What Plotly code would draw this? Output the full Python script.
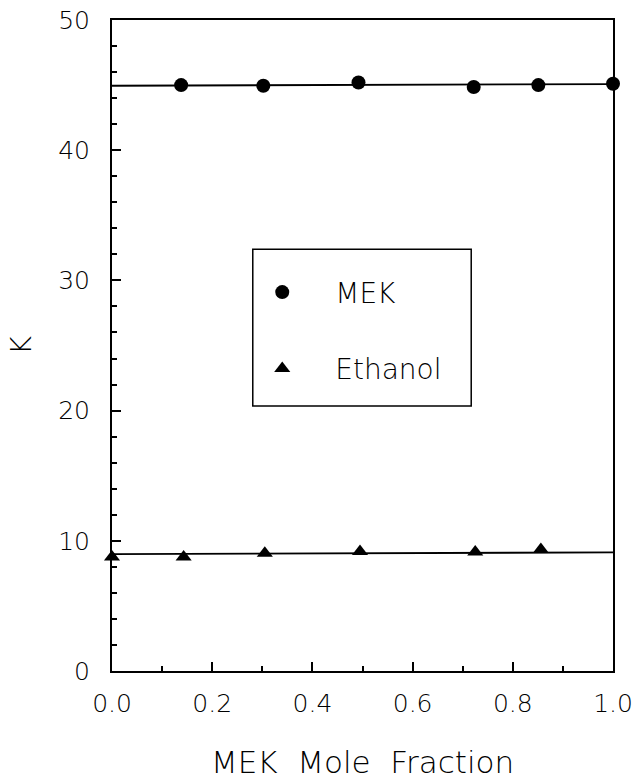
import plotly.graph_objects as go

# Data
mek_x = [0.138, 0.302, 0.492, 0.722, 0.851, 1.0]
mek_k = [45.0, 44.95, 45.2, 44.85, 45.0, 45.1]
eth_x = [0.0, 0.143, 0.305, 0.495, 0.725, 0.856]
eth_k = [8.75, 8.75, 9.05, 9.17, 9.14, 9.33]

fit_x = [0.0, 1.0]
mek_fit = [44.95, 45.08]
eth_fit = [8.98, 9.11]

x_ticks = [0.0, 0.2, 0.4, 0.6, 0.8, 1.0]
y_ticks = [0, 10, 20, 30, 40, 50]

FONT = "DejaVu Sans"
W = 200
fig = go.Figure()

fig.add_trace(go.Scatter(x=fit_x, y=mek_fit, mode="lines",
                         line=dict(color="black", width=1.8), showlegend=False, hoverinfo="skip"))
fig.add_trace(go.Scatter(x=fit_x, y=eth_fit, mode="lines",
                         line=dict(color="black", width=1.8), showlegend=False, hoverinfo="skip"))
fig.add_trace(go.Scatter(x=mek_x, y=mek_k, mode="markers", name="MEK", legendgroup="a",
                         marker=dict(symbol="circle", size=14, color="black"), cliponaxis=False))
fig.add_trace(go.Scatter(x=eth_x, y=eth_k, mode="markers", name="Ethanol", legendgroup="b",
                         marker=dict(symbol="triangle-up", size=14, color="black"), cliponaxis=False))

# legend frame
fig.add_shape(type="rect", xref="paper", yref="paper",
              x0=0.281, x1=0.717, y0=0.407, y1=0.648,
              line=dict(color="black", width=1.5), fillcolor="white", layer="below")

fig.update_layout(
    width=634, height=780,
    margin=dict(l=112, r=21, t=20, b=109),
    plot_bgcolor="white", paper_bgcolor="white",
    font=dict(family=FONT, size=25, color="black", weight=W),
    legend=dict(x=0.234, y=0.62, xanchor="left", yanchor="top",
                borderwidth=0, bgcolor="rgba(0,0,0,0)",
                font=dict(size=28, family=FONT, weight=W),
                traceorder="grouped", tracegroupgap=37, itemwidth=96),
    xaxis=dict(range=[0, 1], tickvals=x_ticks, ticktext=[f"{v:.1f}" for v in x_ticks],
               ticks="inside", ticklen=9, tickwidth=1.5, tickcolor="black",
               minor=dict(dtick=0.1, ticks="inside", ticklen=5, tickwidth=1.5, tickcolor="black"),
               showline=True, linecolor="black", linewidth=2, mirror=True,
               showgrid=False, zeroline=False, automargin=False,
               title=dict(text="MEK  Mole  Fraction", standoff=38, font=dict(size=31)),
               ticklabelstandoff=9),
    yaxis=dict(range=[0, 50], tickvals=y_ticks,
               ticks="inside", ticklen=9, tickwidth=1.5, tickcolor="black",
               minor=dict(dtick=2, ticks="inside", ticklen=5, tickwidth=1.5, tickcolor="black"),
               showline=True, linecolor="black", linewidth=2, mirror=True,
               showgrid=False, zeroline=False, automargin=False,
               title=dict(text="K", standoff=18, font=dict(size=29)),
               ticklabelstandoff=15),
)

fig.write_html("out.html")
